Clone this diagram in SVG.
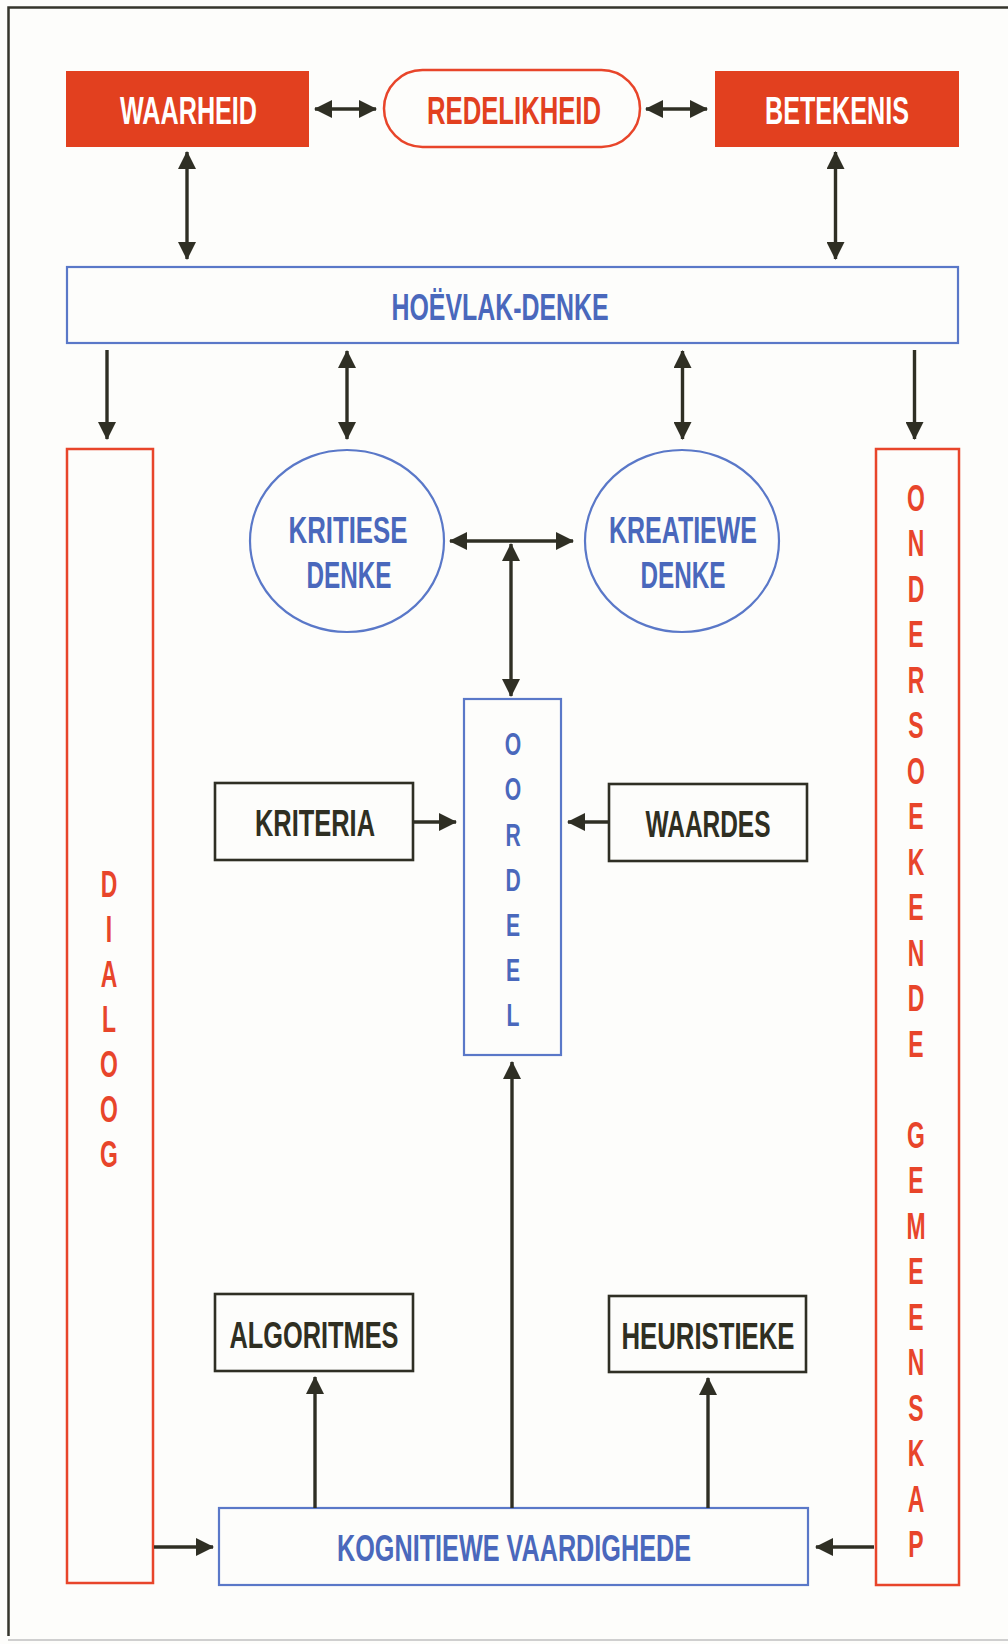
<svg xmlns="http://www.w3.org/2000/svg" width="1008" height="1644" viewBox="0 0 1008 1644">
<style>
text{font-family:"Liberation Sans",Arial,sans-serif;font-weight:bold;text-anchor:middle}
.rf{fill:#e2401f;stroke:none}
.ro{fill:none;stroke:#e8452a;stroke-width:2.5}
.bo{fill:none;stroke:#5a78c8;stroke-width:2.2}
.do{fill:none;stroke:#2f2f24;stroke-width:2.6}
.tw{fill:#ffffff;font-size:38px}
.tr{fill:#e2401f;font-size:38px}
.tb{fill:#4a68bc;font-size:36px}
.td{fill:#2f2f22;font-size:36px}
.vr{fill:#e8452a;font-size:37px}
.vb{fill:#4a68bc;font-size:32px}
.c line{stroke:#2f2f24;stroke-width:3.4}
</style>
<defs>
<marker id="ah" markerUnits="userSpaceOnUse" markerWidth="18" markerHeight="18" viewBox="0 0 18 18" refX="17" refY="9" orient="auto-start-reverse">
<path d="M0,0 L18,9 L0,18 z" fill="#2f2f24"/>
</marker>
</defs>
<rect x="0" y="0" width="1008" height="1644" fill="#fdfdfb"/>
<path d="M1008,7.5 L8.5,7.5 L8.5,1636" fill="none" stroke="#35352c" stroke-width="2.5"/>
<line x1="8" y1="1640" x2="1008" y2="1640" stroke="#cfcfcf" stroke-width="2"/>

<g id="waarheid"><rect class="rf" x="66" y="71" width="243" height="76"/><text class="tw" x="188.5" y="124" textLength="137" lengthAdjust="spacingAndGlyphs">WAARHEID</text></g>
<g id="redelikheid"><rect class="ro" x="384" y="70" width="256" height="77" rx="38.5"/><text class="tr" x="514" y="124" textLength="174" lengthAdjust="spacingAndGlyphs">REDELIKHEID</text></g>
<g id="betekenis"><rect class="rf" x="715" y="71" width="244" height="76"/><text class="tw" x="837" y="124" textLength="144" lengthAdjust="spacingAndGlyphs">BETEKENIS</text></g>
<g id="hoevlak"><rect class="bo" x="67" y="267" width="891" height="76"/><text class="tb" x="500" y="320" textLength="217" lengthAdjust="spacingAndGlyphs">HOËVLAK-DENKE</text></g>

<g id="kritiese"><ellipse class="bo" cx="347" cy="541" rx="97" ry="91"/><text class="tb" x="348" y="543" textLength="119" lengthAdjust="spacingAndGlyphs">KRITIESE</text><text class="tb" x="349" y="588" textLength="85" lengthAdjust="spacingAndGlyphs">DENKE</text></g>
<g id="kreatiewe"><ellipse class="bo" cx="682" cy="541" rx="97" ry="91"/><text class="tb" x="683" y="543" textLength="148" lengthAdjust="spacingAndGlyphs">KREATIEWE</text><text class="tb" x="683" y="588" textLength="85" lengthAdjust="spacingAndGlyphs">DENKE</text></g>

<g id="oordeel"><rect class="bo" x="464" y="699" width="97" height="356"/>
<g transform="translate(513,0) scale(0.66,1)">
<text class="vb" x="0" y="755">O</text><text class="vb" x="0" y="800">O</text><text class="vb" x="0" y="846">R</text><text class="vb" x="0" y="891">D</text><text class="vb" x="0" y="936">E</text><text class="vb" x="0" y="981">E</text><text class="vb" x="0" y="1026">L</text>
</g></g>

<g id="kriteria"><rect class="do" x="215" y="783" width="198" height="77"/><text class="td" x="315" y="836" textLength="120" lengthAdjust="spacingAndGlyphs">KRITERIA</text></g>
<g id="waardes"><rect class="do" x="609" y="784" width="198" height="77"/><text class="td" x="708" y="837" textLength="125" lengthAdjust="spacingAndGlyphs">WAARDES</text></g>
<g id="algoritmes"><rect class="do" x="215" y="1294" width="198" height="77"/><text class="td" x="314" y="1348" textLength="169" lengthAdjust="spacingAndGlyphs">ALGORITMES</text></g>
<g id="heuristieke"><rect class="do" x="609" y="1296" width="197" height="76"/><text class="td" x="708" y="1349" textLength="173" lengthAdjust="spacingAndGlyphs">HEURISTIEKE</text></g>
<g id="kognitiewe"><rect class="bo" x="219" y="1508" width="589" height="77"/><text class="tb" x="514" y="1561" textLength="354" lengthAdjust="spacingAndGlyphs">KOGNITIEWE VAARDIGHEDE</text></g>

<g id="dialoog"><rect class="ro" x="67" y="449" width="86" height="1134"/>
<g transform="translate(109,0) scale(0.62,1)">
<text class="vr" x="0" y="897">D</text><text class="vr" x="0" y="942">I</text><text class="vr" x="0" y="987">A</text><text class="vr" x="0" y="1032">L</text><text class="vr" x="0" y="1077">O</text><text class="vr" x="0" y="1122">O</text><text class="vr" x="0" y="1167">G</text>
</g></g>

<g id="ondersoekende"><rect class="ro" x="876" y="449" width="83" height="1136"/>
<g transform="translate(916,0) scale(0.62,1)">
<text class="vr" x="0" y="511">O</text><text class="vr" x="0" y="556.5">N</text><text class="vr" x="0" y="602">D</text><text class="vr" x="0" y="647.5">E</text><text class="vr" x="0" y="693">R</text><text class="vr" x="0" y="738.5">S</text><text class="vr" x="0" y="784">O</text><text class="vr" x="0" y="829.5">E</text><text class="vr" x="0" y="875">K</text><text class="vr" x="0" y="920.5">E</text><text class="vr" x="0" y="966">N</text><text class="vr" x="0" y="1011.5">D</text><text class="vr" x="0" y="1057">E</text>
<text class="vr" x="0" y="1148">G</text><text class="vr" x="0" y="1193.5">E</text><text class="vr" x="0" y="1239">M</text><text class="vr" x="0" y="1284.5">E</text><text class="vr" x="0" y="1330">E</text><text class="vr" x="0" y="1375.5">N</text><text class="vr" x="0" y="1421">S</text><text class="vr" x="0" y="1466.5">K</text><text class="vr" x="0" y="1512">A</text><text class="vr" x="0" y="1557.5">P</text>
</g></g>

<g id="connectors" class="c">
<line x1="315" y1="109" x2="376" y2="109" marker-start="url(#ah)" marker-end="url(#ah)"/>
<line x1="646" y1="109" x2="707" y2="109" marker-start="url(#ah)" marker-end="url(#ah)"/>
<line x1="187" y1="152" x2="187" y2="259" marker-start="url(#ah)" marker-end="url(#ah)"/>
<line x1="835.5" y1="152" x2="835.5" y2="259" marker-start="url(#ah)" marker-end="url(#ah)"/>
<line x1="107" y1="350" x2="107" y2="439" marker-end="url(#ah)"/>
<line x1="347" y1="351" x2="347" y2="439" marker-start="url(#ah)" marker-end="url(#ah)"/>
<line x1="682.5" y1="351" x2="682.5" y2="439" marker-start="url(#ah)" marker-end="url(#ah)"/>
<line x1="914.5" y1="350" x2="914.5" y2="439" marker-end="url(#ah)"/>
<line x1="450" y1="541" x2="573" y2="541" marker-start="url(#ah)" marker-end="url(#ah)"/>
<line x1="511" y1="544" x2="511" y2="696" marker-start="url(#ah)" marker-end="url(#ah)"/>
<line x1="414" y1="822" x2="456" y2="822" marker-end="url(#ah)"/>
<line x1="609" y1="822" x2="568" y2="822" marker-end="url(#ah)"/>
<line x1="512" y1="1508" x2="512" y2="1062" marker-end="url(#ah)"/>
<line x1="315" y1="1508" x2="315" y2="1377" marker-end="url(#ah)"/>
<line x1="708" y1="1508" x2="708" y2="1378" marker-end="url(#ah)"/>
<line x1="154" y1="1547" x2="213" y2="1547" marker-end="url(#ah)"/>
<line x1="874" y1="1547" x2="816" y2="1547" marker-end="url(#ah)"/>
</g>
</svg>
